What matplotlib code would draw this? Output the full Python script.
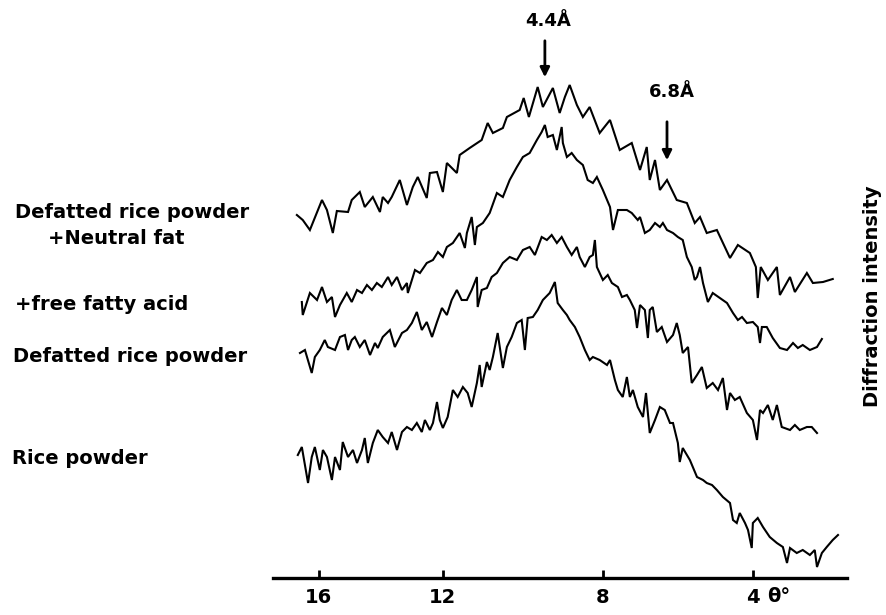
import matplotlib
matplotlib.use("Agg")
import matplotlib.pyplot as plt
import numpy as np

plt.rcParams['font.family'] = ['DejaVu Sans']
plt.rcParams['font.weight'] = 'bold'

# diffraction angle (theta, deg) and intensity (arbitrary units)

# Defatted rice powder + Neutral fat
th_fat = [16.71,16.52,16.29,15.90,15.74,15.55,15.42,15.06,14.94,14.68,14.52,14.26,14.03,13.94,13.77,13.65,
          13.39,13.16,12.97,12.81,12.52,12.42,12.19,12.00,11.90,11.65,11.58,11.33,11.03,10.88,10.75,10.50,
          10.40,10.08,9.98,9.85,9.63,9.50,9.25,9.08,8.95,8.83,8.65,8.50,8.33,8.08,7.81,7.55,7.23,7.01,6.83,
          6.75,6.61,6.48,6.29,6.03,5.76,5.55,5.41,5.23,4.96,4.61,4.40,4.08,3.92,3.87,3.79,3.60,3.36,3.28,
          3.01,2.88,2.56,2.40,2.13,1.87]
i_fat = [363,358,348,378,368,345,367,366,378,386,371,381,366,381,375,381,398,373,391,401,380,405,406,386,
         415,405,423,430,438,455,445,450,461,468,480,461,491,471,490,465,481,493,473,461,471,445,458,428,
         435,408,431,398,418,388,398,378,375,355,361,345,348,320,333,325,311,280,311,298,311,283,301,286,
         305,295,296,299]

# + free fatty acid
th_ffa = [16.55,16.52,16.29,16.06,15.90,15.74,15.58,15.48,15.32,15.10,14.94,14.77,14.61,14.45,14.29,14.13,
          13.97,13.77,13.65,13.48,13.32,13.16,13.13,12.90,12.74,12.52,12.32,12.16,12.00,11.90,11.75,11.58,
          11.45,11.40,11.28,11.20,11.15,11.00,10.83,10.65,10.50,10.33,10.15,10.00,9.83,9.65,9.53,9.45,9.38,
          9.25,9.15,9.03,9.00,8.90,8.78,8.65,8.50,8.38,8.25,8.15,8.00,7.81,7.73,7.60,7.36,7.23,7.07,7.01,
          6.88,6.75,6.61,6.48,6.40,6.29,6.13,6.00,5.87,5.76,5.63,5.55,5.49,5.41,5.33,5.20,5.07,4.88,4.69,
          4.53,4.40,4.29,4.16,4.00,3.87,3.81,3.76,3.63,3.47,3.28,3.09,2.93,2.80,2.67,2.48,2.29,2.16]
i_ffa = [276,263,285,278,291,276,281,261,273,285,276,288,285,293,288,295,291,301,293,301,288,295,285,308,
         305,315,318,326,321,331,335,345,330,345,361,333,351,355,365,385,381,398,411,421,425,438,446,453,
         441,443,428,451,435,421,425,418,413,398,395,401,388,371,348,368,368,365,358,361,345,348,355,351,
         355,348,345,341,338,321,311,298,301,311,295,276,285,280,275,265,258,261,255,256,251,235,251,251,
         240,230,228,235,230,233,228,231,239]

# Defatted rice powder
th_def = [16.61,16.45,16.23,16.13,15.97,15.81,15.71,15.48,15.32,15.16,15.06,14.94,14.84,14.68,14.52,14.35,
          14.19,14.10,13.94,13.71,13.55,13.32,13.16,13.00,12.84,12.68,12.52,12.35,12.19,12.03,11.90,11.78,
          11.65,11.53,11.40,11.28,11.15,11.13,11.03,10.90,10.78,10.65,10.50,10.33,10.15,10.00,9.83,9.70,
          9.53,9.40,9.28,9.15,9.03,8.90,8.78,8.65,8.58,8.45,8.33,8.25,8.20,8.15,8.00,7.87,7.76,7.60,7.49,
          7.36,7.28,7.15,7.09,7.01,6.88,6.80,6.75,6.67,6.56,6.43,6.29,6.13,6.03,5.95,5.87,5.73,5.63,5.49,
          5.36,5.23,5.07,4.93,4.80,4.69,4.61,4.48,4.35,4.16,4.00,3.89,3.81,3.73,3.60,3.47,3.36,3.23,3.01,
          2.88,2.75,2.56,2.43,2.29]
i_def = [225,228,205,221,228,238,231,228,241,243,228,238,241,231,238,223,235,230,241,248,231,245,248,255,
         266,248,256,241,256,270,263,278,288,278,278,288,301,271,288,290,301,305,315,321,318,328,331,323,
         341,338,343,335,341,331,323,331,321,311,321,323,338,311,298,303,295,291,281,283,278,268,250,273,
         268,240,268,271,246,251,236,243,255,243,225,231,195,203,211,190,195,188,200,168,185,178,181,165,
         158,138,168,165,173,158,173,151,148,153,148,151,151,145]

# Rice powder
th_rice = [16.68,16.55,16.45,16.35,16.23,16.13,15.97,15.87,15.74,15.58,15.48,15.32,15.23,15.06,14.90,14.77,
           14.61,14.52,14.42,14.26,14.10,13.94,13.77,13.65,13.48,13.32,13.16,13.00,12.84,12.68,12.58,12.42,
           12.32,12.19,12.10,12.00,11.88,11.75,11.63,11.50,11.38,11.28,11.15,11.08,11.03,10.90,10.83,10.75,
           10.63,10.50,10.40,10.28,10.15,10.03,9.95,9.88,9.75,9.63,9.50,9.33,9.20,9.13,9.00,8.90,8.83,8.70,
           8.58,8.45,8.33,8.25,8.08,7.89,7.81,7.68,7.60,7.47,7.36,7.28,7.20,7.07,6.93,6.85,6.75,6.61,6.48,
           6.35,6.21,6.13,6.00,5.95,5.87,5.68,5.49,5.33,5.23,5.09,4.96,4.80,4.61,4.53,4.43,4.35,4.21,4.13,
           4.03,4.00,3.87,3.73,3.55,3.36,3.20,3.09,3.01,2.83,2.67,2.48,2.35,2.29,2.16,2.03,1.87,1.73]
i_rice = [123,131,113,95,121,131,108,128,121,98,121,108,136,121,128,115,128,140,115,135,148,141,135,146,
          128,146,151,148,155,146,158,148,155,176,158,150,161,188,181,191,185,171,195,213,191,216,208,221,
          245,210,231,241,255,258,228,260,261,268,278,285,296,275,268,263,258,251,241,228,218,221,218,213,
          218,198,188,181,201,181,188,171,161,185,145,158,171,168,155,155,135,116,130,118,101,98,95,93,88,
          81,75,58,55,65,55,48,30,55,60,51,41,35,31,15,30,25,28,23,28,11,25,31,38,43]

tick_vals = [16, 12, 8, 4]
tick_labels = ['16', '12', '8', '4']

# the chart paper is not linear in theta: calibrate the axis on the printed ticks
cal_theta = np.array([-10.0, 4.0, 8.0, 12.0, 16.0, 30.0])
cal_pos = np.array([1278.0, 753.0, 603.0, 443.0, 319.0, -115.0])

def fwd(t):
    return -np.interp(t, cal_theta, cal_pos)

def inv(v):
    return np.interp(-np.asarray(v), cal_pos[::-1], cal_theta[::-1])

fig = plt.figure(figsize=(8.86, 6.15), dpi=100)
ax = fig.add_axes([273/886, 37/615, 574/886, 578/615])
ax.set_xscale('function', functions=(fwd, inv))

for th, it in [(th_fat, i_fat), (th_ffa, i_ffa), (th_def, i_def), (th_rice, i_rice)]:
    ax.plot(th, it, color='black', lw=1.5, solid_joinstyle='miter')

ax.set_xlim(17.48, 1.49)
ax.set_ylim(0, 578)
for s in ['left', 'right', 'top']:
    ax.spines[s].set_visible(False)
ax.spines['bottom'].set_linewidth(2.4)
ax.set_yticks([])
ax.set_xticks(tick_vals)
ax.set_xticklabels(tick_labels)
ax.tick_params(axis='x', direction='in', length=6, width=2, pad=7, labelsize=14)
ax.text(3.62, -19, 'θ°', fontsize=14, ha='left', va='center')

# peak markers
ax.annotate('', xy=(9.45, 498), xytext=(9.45, 540),
            arrowprops=dict(arrowstyle='-|>', lw=2, color='black', mutation_scale=14))
ax.text(9.38, 557, '4.4Å', fontsize=13, ha='center', va='center')
ax.annotate('', xy=(6.29, 415), xytext=(6.29, 459),
            arrowprops=dict(arrowstyle='-|>', lw=2, color='black', mutation_scale=14))
ax.text(6.16, 486, '6.8Å', fontsize=13, ha='center', va='center')

# sample names on the left
fig.text(15/886, 1 - 212/615, 'Defatted rice powder', fontsize=14, va='center')
fig.text(48/886, 1 - 238/615, '+Neutral fat', fontsize=14, va='center')
fig.text(15/886, 1 - 305/615, '+free fatty acid', fontsize=14, va='center')
fig.text(13/886, 1 - 356/615, 'Defatted rice powder', fontsize=14, va='center')
fig.text(12/886, 1 - 458/615, 'Rice powder', fontsize=14, va='center')

fig.text(872/886, 1 - 296/615, 'Diffraction intensity', fontsize=14, rotation=90,
         ha='center', va='center')

fig.savefig('out.png', dpi=100)
